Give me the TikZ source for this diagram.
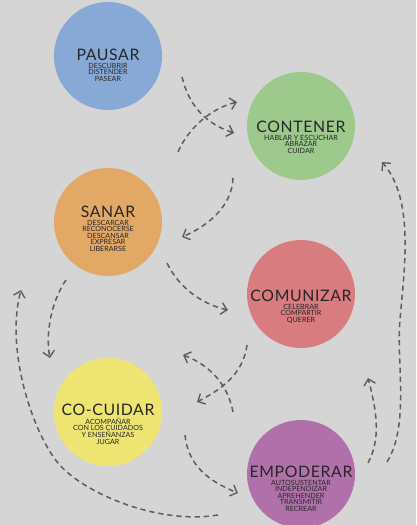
\documentclass[tikz,border=0pt]{standalone}
\usepackage{fontspec}
\setmainfont{Lato}
\usetikzlibrary{arrows.meta, positioning, calc}

\definecolor{bgcol}{HTML}{D5D5D5}
\definecolor{inkcol}{HTML}{262626}
\definecolor{arrowcol}{HTML}{5E5E5E}
\definecolor{pausarcol}{HTML}{88A9D5}
\definecolor{contenercol}{HTML}{9DCA8C}
\definecolor{sanarcol}{HTML}{E2A866}
\definecolor{comunizarcol}{HTML}{D87C7F}
\definecolor{cocuidarcol}{HTML}{EDE472}
\definecolor{empoderarcol}{HTML}{B071AA}

\newcommand\stagesubfont{\fontsize{6.1}{5.6}\selectfont\setlength{\lineskiplimit}{-20pt}}

\begin{document}
\begin{tikzpicture}[
    x=0.3mm, y=-0.3mm,
    stage/.style={circle, minimum size=32.4mm, inner sep=0pt},
    ttl/.style={inner sep=0pt, text=inkcol, font=\fontsize{13.5}{13.5}\selectfont\addfontfeature{LetterSpace=4}},
    sub/.style={inner sep=0pt, text=inkcol, align=center, font=\stagesubfont},
    flow/.style={draw=arrowcol, line width=1.3pt, dash pattern=on 4.5pt off 3.3pt,
      -{Straight Barb[length=5pt, width=10pt, line width=1.2pt]}}
  ]
    \clip (0,0) rectangle (416,525);
    \fill[bgcol] (0,0) rectangle (416,525);

    \node[stage, fill=pausarcol] (pausar) at (108,56) {};
    \node[stage, fill=contenercol] (contener) at (301,126) {};
    \node[stage, fill=sanarcol] (sanar) at (108,222) {};
    \node[stage, fill=comunizarcol] (comunizar) at (301,294) {};
    \node[stage, fill=cocuidarcol] (cocuidar) at (108,412) {};
    \node[stage, fill=empoderarcol] (empoderar) at (301,474) {};

    \node[ttl] (pausar-t) at ($(pausar)+(0,-1)$) {PAUSAR};
    \node[sub, below=1.5pt of pausar-t] (pausar-s) {DESCUBRIR\\DISTENDER\\PASEAR};
    \node[ttl] (contener-t) at ($(contener)+(0,1)$) {CONTENER};
    \node[sub, below=1.5pt of contener-t] (contener-s) {HABLAR Y ESCUCHAR\\ABRAZAR\\CUIDAR};
    \node[ttl] (sanar-t) at ($(sanar)+(0,-10)$) {SANAR};
    \node[sub, below=1.5pt of sanar-t] (sanar-s) {DESCARCAR\\RECONOCERSE\\DESCANSAR\\EXPRESAR\\LIBERARSE};
    \node[ttl] (comunizar-t) at ($(comunizar)+(0,2)$) {COMUNIZAR};
    \node[sub, below=1.5pt of comunizar-t] (comunizar-s) {CELEBRAR\\COMPARTIR\\QUERER};
    \node[ttl] (cocuidar-t) at ($(cocuidar)+(0,-2)$) {CO-CUIDAR};
    \node[sub, below=1.5pt of cocuidar-t] (cocuidar-s) {ACOMPAÑAR\\CON LOS CUIDADOS\\Y ENSEÑANZAS\\JUGAR};
    \node[ttl] (empoderar-t) at ($(empoderar)+(0,-2)$) {EMPODERAR};
    \node[sub, below=1.5pt of empoderar-t] (empoderar-s) {AUTOSUSTENTAR\\INDEPENDIZAR\\APREHENDER\\TRANSMITIR\\RECREAR};

    \coordinate (pausar-out) at ($(pausar)+(74,21)$);
    \coordinate (contener-in1) at ($(contener)+(-67,7)$);
    \coordinate (sanar-out1) at ($(sanar)+(70,-70)$);
    \coordinate (contener-in2) at ($(contener)+(-64,-24)$);
    \coordinate (contener-out) at ($(contener)+(-68,52)$);
    \coordinate (sanar-in1) at ($(sanar)+(74,15)$);
    \coordinate (sanar-out2) at ($(sanar)+(59,41)$);
    \coordinate (comunizar-in) at ($(comunizar)+(-73,16)$);
    \coordinate (comunizar-out) at ($(comunizar)+(-54,51)$);
    \coordinate (cocuidar-in1) at ($(cocuidar)+(89,-10)$);
    \coordinate (empoderar-out1) at ($(empoderar)+(-68,-62)$);
    \coordinate (cocuidar-in2) at ($(cocuidar)+(75,-57)$);
    \coordinate (sanar-out3) at ($(sanar)+(-42,58)$);
    \coordinate (cocuidar-in3) at ($(cocuidar)+(-58,-54)$);
    \coordinate (empoderar-out2) at ($(empoderar)+(-83,41)$);
    \coordinate (left-bend) at ($(cocuidar)+(-50,51)$);
    \coordinate (sanar-in2) at ($(sanar)+(-87,68)$);
    \coordinate (cocuidar-out) at ($(cocuidar)+(77,23)$);
    \coordinate (empoderar-in) at ($(empoderar)+(-63,19)$);
    \coordinate (empoderar-out3) at ($(empoderar)+(86,-12)$);
    \coordinate (right-bend) at ($(comunizar)+(99,26)$);
    \coordinate (contener-in3) at ($(contener)+(81,36)$);
    \coordinate (empoderar-out4) at ($(empoderar)+(67,-11)$);
    \coordinate (empoderar-up) at ($(empoderar)+(67,-96)$);

    \draw[flow] (pausar-out) .. controls +(8,33) and +(-24,-8) .. (contener-in1);
    \draw[flow] (sanar-out1) .. controls +(7,-17) and +(-32,8) .. (contener-in2);
    \draw[flow] (contener-out) .. controls +(-1,27) and +(28,-12) .. (sanar-in1);
    \draw[flow] (sanar-out2) .. controls +(13,27) and +(-23,-5) .. (comunizar-in);
    \draw[flow] (comunizar-out) .. controls +(-4,30) and +(23,-12) .. (cocuidar-in1);
    \draw[flow] (empoderar-out1) .. controls +(-5,-27) and +(27,10) .. (cocuidar-in2);
    \draw[flow] (sanar-out3) .. controls +(-14,20) and +(-5,-25) .. (cocuidar-in3);
    \draw[flow] (empoderar-out2) .. controls +(-60,10) and +(25,30) .. (left-bend)
      .. controls +(-25,-30) and +(-16,60) .. (sanar-in2);
    \draw[flow] (cocuidar-out) .. controls +(3,30) and +(-30,-12) .. (empoderar-in);
    \draw[flow] (empoderar-out3) .. controls +(23,-37) and +(-4,40) .. (right-bend)
      .. controls +(4,-50) and +(33,38) .. (contener-in3);
    \draw[flow] (empoderar-out4) .. controls +(12,-23) and +(10,38) .. (empoderar-up);
\end{tikzpicture}
\end{document}
